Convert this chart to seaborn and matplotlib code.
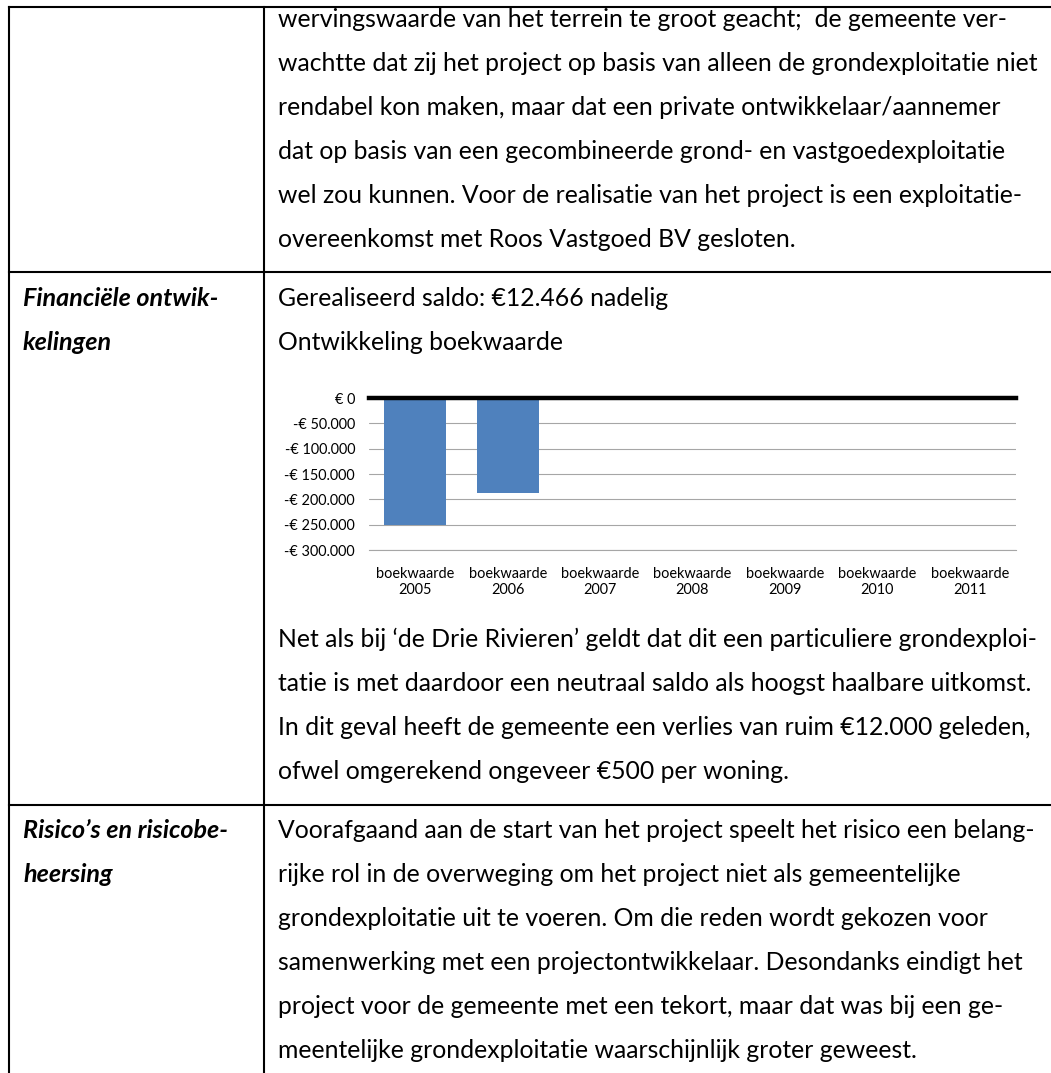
import matplotlib
matplotlib.use("Agg")
import matplotlib.pyplot as plt
import seaborn as sns
import pandas as pd
from matplotlib.lines import Line2D
from matplotlib.ticker import FuncFormatter

# ---------------- data ----------------
categories = ["boekwaarde 2005", "boekwaarde 2006", "boekwaarde 2007", "boekwaarde 2008",
              "boekwaarde 2009", "boekwaarde 2010", "boekwaarde 2011"]
tick_labels = ["boekwaarde\n2005", "boekwaarde\n2006", "boekwaarde\n2007", "boekwaarde\n2008",
               "boekwaarde\n2009", "boekwaarde\n2010", "boekwaarde\n2011"]
values = [-251000, -188000, 0, 0, 0, 0, 0]
ytick_values = [0, -50000, -100000, -150000, -200000, -250000, -300000]

row1_text = [
    "wervingswaarde van het terrein te groot geacht;  de gemeente ver-",
    "wachtte dat zij het project op basis van alleen de grondexploitatie niet",
    "rendabel kon maken, maar dat een private ontwikkelaar/aannemer",
    "dat op basis van een gecombineerde grond- en vastgoedexploitatie",
    "wel zou kunnen. Voor de realisatie van het project is een exploitatie-",
    "overeenkomst met Roos Vastgoed BV gesloten.",
]
row2_head = ["Financiële ontwik-", "kelingen"]
row2_top = ["Gerealiseerd saldo: €12.466 nadelig", "Ontwikkeling boekwaarde"]
row2_bottom = [
    "Net als bij \u2018de Drie Rivieren\u2019 geldt dat dit een particuliere grondexploi-",
    "tatie is met daardoor een neutraal saldo als hoogst haalbare uitkomst.",
    "In dit geval heeft de gemeente een verlies van ruim €12.000 geleden,",
    "ofwel omgerekend ongeveer €500 per woning.",
]
row3_head = ["Risico\u2019s en risicobe-", "heersing"]
row3_text = [
    "Voorafgaand aan de start van het project speelt het risico een belang-",
    "rijke rol in de overweging om het project niet als gemeentelijke",
    "grondexploitatie uit te voeren. Om die reden wordt gekozen voor",
    "samenwerking met een projectontwikkelaar. Desondanks eindigt het",
    "project voor de gemeente met een tekort, maar dat was bij een ge-",
    "meentelijke grondexploitatie waarschijnlijk groter geweest.",
]

# ---------------- setup ----------------
W, H = 1051, 1073
sns.set_theme(style="white")
plt.rcParams["font.family"] = ["Lato", "DejaVu Sans"]
fig = plt.figure(figsize=(W / 100, H / 100), dpi=100)
fig.patch.set_facecolor("white")
renderer = fig.canvas.get_renderer()


def fit_size(text, target_px, weight="normal", style="normal", base=12.0):
    t = fig.text(0, 0, text, fontsize=base, fontweight=weight, fontstyle=style)
    w = t.get_window_extent(renderer).width
    t.remove()
    return base * target_px / w


def fx(x):
    return x / W


def fy(y):
    return 1 - y / H


body_fs = fit_size(row1_text[1], 757)
head_fs = fit_size(row2_head[0], 195, weight="bold", style="italic")

# ---------------- table lines ----------------
lw = 1.5
for (x0, y0, x1, y1) in [(9, 7, 1051, 7), (9, 7, 9, 1073), (264, 7, 264, 1073),
                         (9, 272, 1051, 272), (9, 805, 1051, 805)]:
    fig.add_artist(Line2D([fx(x0), fx(x1)], [fy(y0), fy(y1)], transform=fig.transFigure,
                          color="black", lw=lw, solid_capstyle="projecting"))

# ---------------- text ----------------
pitch = 44.0
X_BODY = 278
X_HEAD = 23


def put_lines(lines, x, y0, fs, **kw):
    for i, s in enumerate(lines):
        fig.text(fx(x), fy(y0 + i * pitch), s, fontsize=fs, va="baseline", ha="left",
                 color="black", **kw)


put_lines(row1_text, X_BODY, 247 - 5 * pitch, body_fs)
put_lines(row2_head, X_HEAD, 306, head_fs, fontweight="bold", fontstyle="italic")
put_lines(row2_top, X_BODY, 306, body_fs)
put_lines(row2_bottom, X_BODY, 779 - 3 * pitch, body_fs)
put_lines(row3_head, X_HEAD, 838, head_fs, fontweight="bold", fontstyle="italic")
put_lines(row3_text, X_BODY, 838, body_fs)

# ---------------- chart ----------------
lab_fs = fit_size("boekwaarde", 78)
ax = fig.add_axes([fx(369), fy(550), 647 / W, 152 / H])
df = pd.DataFrame({"categorie": categories, "waarde": values})
sns.barplot(data=df, x="categorie", y="waarde", order=categories, color="#4F81BD",
            saturation=1, width=0.67, linewidth=0, ax=ax)
ax.set_xlim(-0.5, len(categories) - 0.5)
ax.set_ylim(ytick_values[-1], ytick_values[0])
ax.set_yticks(ytick_values)


def euro(v, pos=None):
    if v == 0:
        return "€ 0"
    return "-€ " + f"{int(round(-v)):,}".replace(",", ".")


ax.yaxis.set_major_formatter(FuncFormatter(euro))
ax.set_xticks(range(len(categories)))
ax.set_xticklabels(tick_labels, linespacing=1.2)
ax.set_xlabel("")
ax.set_ylabel("")
ax.yaxis.grid(True, color="#A6A6A6", lw=0.8)
ax.xaxis.grid(False)
ax.set_axisbelow(True)
for s in ["left", "right"]:
    ax.spines[s].set_visible(False)
ax.spines["bottom"].set_color("#A6A6A6")
ax.spines["bottom"].set_linewidth(0.8)
ax.spines["top"].set_color("black")
ax.spines["top"].set_linewidth(3.2)
ax.spines["top"].set_zorder(5)
ax.tick_params(axis="both", length=0, labelsize=lab_fs, colors="black")
ax.tick_params(axis="y", pad=10)
ax.tick_params(axis="x", pad=12)
ax.set_facecolor("white")

fig.savefig("out.png", dpi=100, facecolor="white")
